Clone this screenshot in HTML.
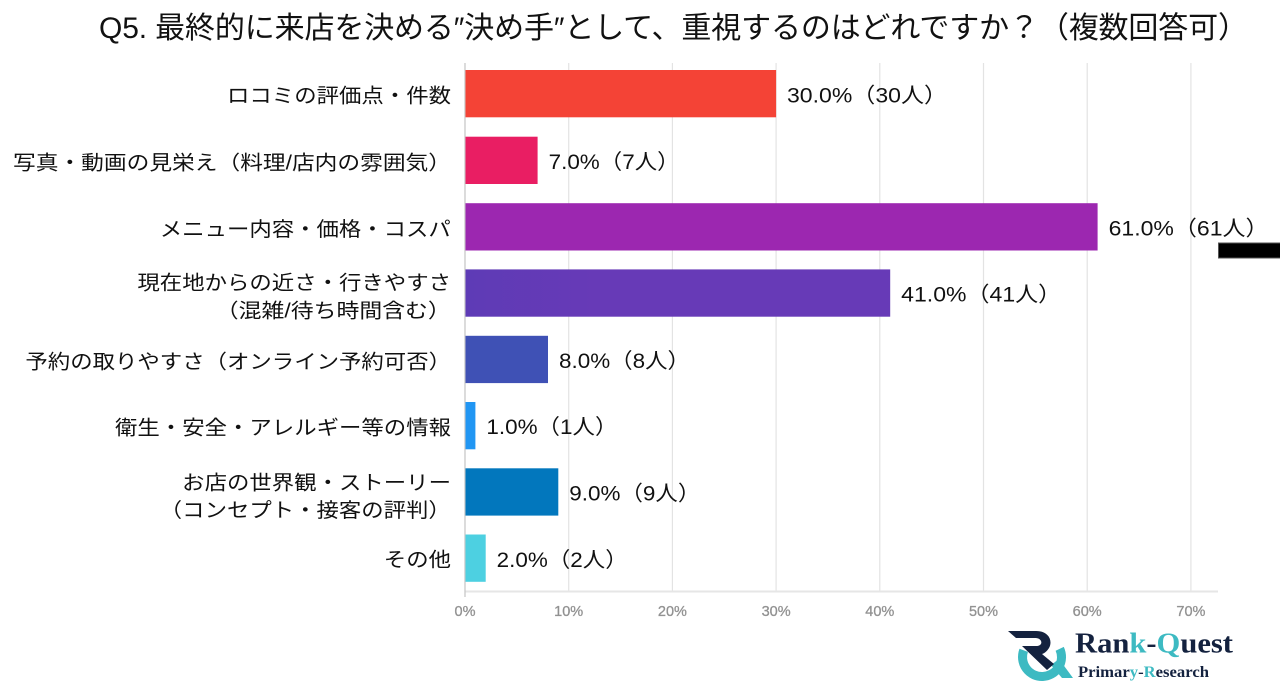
<!DOCTYPE html>
<html>
<head>
<meta charset="utf-8">
<style>
  html, body { margin: 0; padding: 0; background: #ffffff; }
  body { width: 1280px; height: 687px; overflow: hidden; }
  svg { display: block; }
  .jp { font-family: "Liberation Sans", "Noto Sans CJK JP", sans-serif; }
</style>
</head>
<body>
<svg width="1280" height="687" viewBox="0 0 1280 687" xmlns="http://www.w3.org/2000/svg">
  <rect x="0" y="0" width="1280" height="687" fill="#ffffff"/>

  <!-- Title -->
  <text class="jp" x="99" y="38" font-size="30" fill="#111111" textLength="1149" lengthAdjust="spacing">Q5. 最終的に来店を決める″決め手″として、重視するのはどれですか？（複数回答可）</text>

  <!-- Gridlines -->
  <g stroke="#e3e3e3" stroke-width="1.2">
    <line x1="568.7" y1="63" x2="568.7" y2="592"/>
    <line x1="672.4" y1="63" x2="672.4" y2="592"/>
    <line x1="776.1" y1="63" x2="776.1" y2="592"/>
    <line x1="879.8" y1="63" x2="879.8" y2="592"/>
    <line x1="983.5" y1="63" x2="983.5" y2="592"/>
    <line x1="1087.2" y1="63" x2="1087.2" y2="592"/>
    <line x1="1190.9" y1="63" x2="1190.9" y2="592"/>
  </g>
  <!-- Baseline horizontal -->
  <line x1="465" y1="591.5" x2="1218" y2="591.5" stroke="#e6e6e6" stroke-width="2"/>
  <!-- Axis -->
  <line x1="465" y1="63" x2="465" y2="597" stroke="#c8c8c8" stroke-width="1.3"/>

  <!-- Bars -->
  <defs>
    <linearGradient id="g4" x1="0" y1="0" x2="1" y2="0">
      <stop offset="0" stop-color="#5e3bb6"/>
      <stop offset="0.3" stop-color="#673ab7"/>
      <stop offset="1" stop-color="#673ab7"/>
    </linearGradient>
  </defs>
  <rect x="465.5" y="70"    width="310.6" height="47.3" fill="#f44336"/>
  <rect x="465.5" y="136.7" width="72.1"  height="47.3" fill="#e91e63"/>
  <rect x="465.5" y="203.2" width="632.1" height="47.3" fill="#9c27b0"/>
  <rect x="465.5" y="269.4" width="424.7" height="47.3" fill="url(#g4)"/>
  <rect x="465.5" y="335.8" width="82.5"  height="47.3" fill="#3f51b5"/>
  <rect x="465.5" y="402"   width="9.9"   height="47.3" fill="#2196f3"/>
  <rect x="465.5" y="468.3" width="92.8"  height="47.3" fill="#0277bd"/>
  <rect x="465.5" y="534.5" width="20.2"  height="47.3" fill="#4dd0e1"/>

  <!-- Category labels -->
  <g class="jp" font-size="20" fill="#111111">
    <text x="227" y="102.5" textLength="224" lengthAdjust="spacingAndGlyphs">ロコミの評価点・件数</text>
    <text x="13" y="169.5" textLength="438" lengthAdjust="spacingAndGlyphs">写真・動画の見栄え（料理/店内の雰囲気）</text>
    <text x="159.8" y="236" textLength="291" lengthAdjust="spacingAndGlyphs">メニュー内容・価格・コスパ</text>
    <text x="137.4" y="289.3" textLength="313.6" lengthAdjust="spacingAndGlyphs">現在地からの近さ・行きやすさ</text>
    <text x="215.8" y="317.6" textLength="235" lengthAdjust="spacingAndGlyphs">（混雑/待ち時間含む）</text>
    <text x="25.4" y="368.5" textLength="425.6" lengthAdjust="spacingAndGlyphs">予約の取りやすさ（オンライン予約可否）</text>
    <text x="115" y="434.5" textLength="336" lengthAdjust="spacingAndGlyphs">衛生・安全・アレルギー等の情報</text>
    <text x="182.2" y="489.3" textLength="268.8" lengthAdjust="spacingAndGlyphs">お店の世界観・ストーリー</text>
    <text x="159.8" y="517" textLength="291" lengthAdjust="spacingAndGlyphs">（コンセプト・接客の評判）</text>
    <text x="383.8" y="566.5" textLength="67.2" lengthAdjust="spacingAndGlyphs">その他</text>
  </g>

  <!-- Value labels -->
  <g class="jp" font-size="21" fill="#111111">
    <text x="787" y="102.3" textLength="160" lengthAdjust="spacingAndGlyphs">30.0%（30人）</text>
    <text x="548.6" y="169" textLength="131" lengthAdjust="spacingAndGlyphs">7.0%（7人）</text>
    <text x="1108.6" y="235.3" textLength="160" lengthAdjust="spacingAndGlyphs">61.0%（61人）</text>
    <text x="901.2" y="301.6" textLength="160" lengthAdjust="spacingAndGlyphs">41.0%（41人）</text>
    <text x="559" y="368" textLength="131" lengthAdjust="spacingAndGlyphs">8.0%（8人）</text>
    <text x="486.4" y="434.2" textLength="131" lengthAdjust="spacingAndGlyphs">1.0%（1人）</text>
    <text x="569.3" y="500.6" textLength="131" lengthAdjust="spacingAndGlyphs">9.0%（9人）</text>
    <text x="496.7" y="566.8" textLength="131" lengthAdjust="spacingAndGlyphs">2.0%（2人）</text>
  </g>

  <!-- Tick labels -->
  <g font-family="'Liberation Sans', sans-serif" font-size="14.5" fill="#8f8f8f" stroke="#9a9a9a" stroke-width="0.35" text-anchor="middle">
    <text x="465" y="616">0%</text>
    <text x="568.7" y="616">10%</text>
    <text x="672.4" y="616">20%</text>
    <text x="776.1" y="616">30%</text>
    <text x="879.8" y="616">40%</text>
    <text x="983.5" y="616">50%</text>
    <text x="1087.2" y="616">60%</text>
    <text x="1190.9" y="616">70%</text>
  </g>

  <!-- Black rectangle -->
  <rect x="1218.5" y="243" width="62" height="15" fill="#000000" stroke="#555555" stroke-width="1"/>

  <!-- Logo -->
  <g>
    <path d="M1023.7,650.3 A19.5,19.5 0 1 0 1059.7,648.8" fill="none" stroke="#3dbac2" stroke-width="9"/>
    <polygon points="1051,665 1059,659 1073,678 1062,678" fill="#3dbac2"/>
    <path d="M1008,631 L1036,631 C1049,631 1053,641 1049,648 C1047,651 1045,653 1042,654 L1054,664 L1047,670 L1022,646 L1036,646 C1041,646 1042,643 1041,641 C1040,639 1038,638 1035,638 L1016,638 Z" fill="#14223f"/>
    <text x="1075" y="652.5" font-family="'Liberation Serif', serif" font-weight="bold" font-size="29" fill="#14223f" textLength="158" lengthAdjust="spacingAndGlyphs">Ran<tspan fill="#3dbac2">k</tspan>-<tspan fill="#3dbac2">Q</tspan>uest</text>
    <text x="1078" y="677" font-family="'Liberation Serif', serif" font-weight="bold" font-size="16" fill="#14223f" textLength="131" lengthAdjust="spacingAndGlyphs">Primar<tspan fill="#3dbac2">y</tspan>-<tspan fill="#3dbac2">R</tspan>esearch</text>
  </g>
</svg>
</body>
</html>
